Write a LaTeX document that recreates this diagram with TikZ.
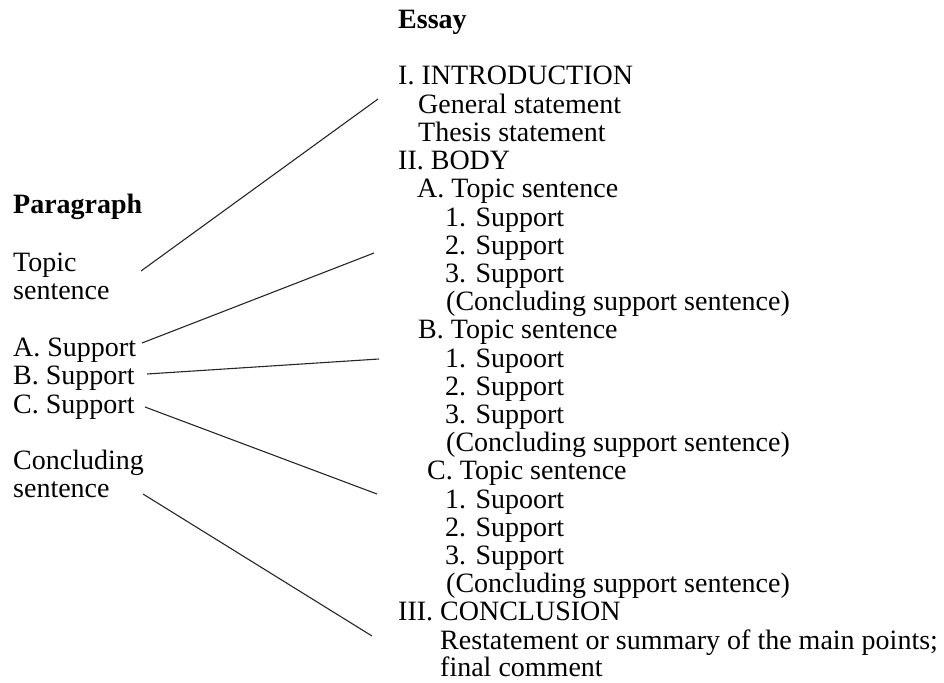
\documentclass[tikz,border=0pt]{standalone}
\usepackage{fontspec}
\setmainfont{Liberation Serif}
\usetikzlibrary{calc}

\tikzset{
  txt/.style={anchor=base west, inner sep=0pt, font=\fontsize{28}{28.4}\selectfont},
  head/.style={txt, font=\fontsize{28}{28.4}\selectfont\bfseries},
  link/.style={black!85, line width=1.1pt},
}

\begin{document}
\begin{tikzpicture}[x=1pt,y=-1pt]
\useasboundingbox (0,0) rectangle (944,682);
% paragraph column
\node[head] (para) at (13,213) {Paragraph};
\node[txt] (topic) at (13,271) {Topic};
\node[txt] (topicb) at (13,299) {sentence};
\node[txt] (suppA) at (13,356) {A. Support};
\node[txt] (suppB) at (13,384) {B. Support};
\node[txt] (suppC) at (13,413) {C. Support};
\node[txt] (concl) at (13,469) {Concluding};
\node[txt] (conclb) at (13,497) {sentence};
% essay column
\node[head] (essay) at (398,29) {Essay};
\node[txt] (intro) at (398,85) {I. INTRODUCTION};
\node[txt] (general) at (418,113.2) {General statement};
\node[txt] (thesis) at (418,141.4) {Thesis statement};
\node[txt] (body) at (398,169.6) {II. BODY};
\node[txt] (topA) at (417,197.8) {A. Topic sentence};
\node[txt] (supA1) at (445,226) {1. Support};
\node[txt] (supA2) at (445,254.2) {2. Support};
\node[txt] (supA3) at (445,282.4) {3. Support};
\node[txt] (endA) at (446,310.6) {(Concluding support sentence)};
\node[txt] (topB) at (418,338.8) {B. Topic sentence};
\node[txt] (supB1) at (445,367) {1. Supoort};
\node[txt] (supB2) at (445,395.2) {2. Support};
\node[txt] (supB3) at (445,423.4) {3. Support};
\node[txt] (endB) at (446,451.6) {(Concluding support sentence)};
\node[txt] (topC) at (427,479.8) {C. Topic sentence};
\node[txt] (supC1) at (445,508) {1. Supoort};
\node[txt] (supC2) at (445,536.2) {2. Support};
\node[txt] (supC3) at (445,564.4) {3. Support};
\node[txt] (endC) at (446,592.6) {(Concluding support sentence)};
\node[txt] (conclusion) at (398,620.8) {III. CONCLUSION};
\node[txt] (restate) at (440,649) {Restatement or summary of the main points;};
\node[txt] (final) at (440,676.4) {final comment};
% line ends
\coordinate (topicR) at (141,271);
\coordinate (suppAR) at (142,343);
\coordinate (suppBR) at (147,374);
\coordinate (suppCR) at (145,407);
\coordinate (conclR) at (143,494);
\coordinate (introL) at (378,99);
\coordinate (topAL) at (374,253);
\coordinate (topBL) at (379,359);
\coordinate (topCL) at (377,494);
\coordinate (conclusionL) at (372,636);
\draw[link] (topicR) -- (introL);
\draw[link] (suppAR) -- (topAL);
\draw[link] (suppBR) -- (topBL);
\draw[link] (suppCR) -- (topCL);
\draw[link] (conclR) -- (conclusionL);
\end{tikzpicture}
\end{document}
